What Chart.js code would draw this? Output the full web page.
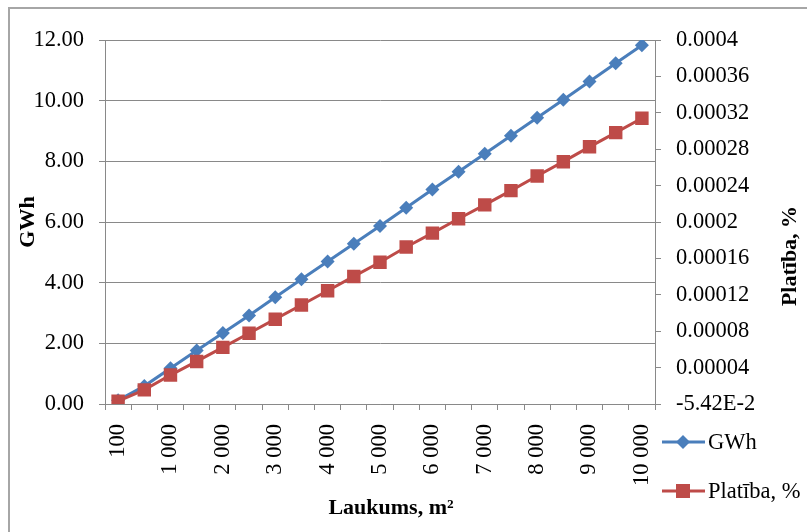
<!DOCTYPE html>
<html>
<head>
<meta charset="utf-8">
<script src="https://cdn.jsdelivr.net/npm/chart.js@4/dist/chart.umd.min.js"></script>
<style>
  html, body { margin: 0; padding: 0; background: #fff; }
  canvas { display: block; }
</style>
</head>
<body>
<canvas id="chart" width="807" height="532"></canvas>
<script>
// area, m2
const areas = [100, 500, 1000, 1500, 2000, 2500, 3000, 3500, 4000, 4500, 5000,
               5500, 6000, 6500, 7000, 7500, 8000, 8500, 9000, 9500, 10000];
// GWh (left axis)
const gwh = [0.12, 0.59, 1.18, 1.76, 2.34, 2.92, 3.52, 4.11, 4.70, 5.28, 5.87,
             6.47, 7.07, 7.66, 8.25, 8.84, 9.44, 10.03, 10.63, 11.23, 11.83];
// Platība, % (right axis)
const platiba = [0.0000031, 0.0000155, 0.0000318, 0.0000468, 0.0000622, 0.0000778, 0.0000932,
                 0.0001088, 0.0001245, 0.0001402, 0.0001557, 0.0001725, 0.0001878, 0.0002036,
                 0.0002188, 0.0002345, 0.0002505, 0.0002663, 0.0002826, 0.0002982, 0.0003140];
const leftTicks = [0, 12, 2];          // min, max, step
const rightTicks = [0, 0.0004, 0.00004];
const zeroLabelRight = '-5.42E-2';

const BLUE = '#4A7EBB';
const RED = '#BE4B48';
const GRID = '#898989';
const FONT = '"Liberation Serif", "Times New Roman", serif';

function fmtArea(n) {
  if (n < 1000) return String(n);
  return Math.floor(n / 1000) + ' ' + String(n % 1000).padStart(3, '0');
}

// frame, right axis title, x title and legend are drawn by hand
const extras = {
  id: 'extras',
  beforeDraw(chart) {
    const ctx = chart.ctx;
    ctx.save();
    ctx.fillStyle = '#fff';
    ctx.fillRect(0, 0, chart.width, chart.height);
    ctx.strokeStyle = '#a6a6a6';
    ctx.lineWidth = 2;
    ctx.strokeRect(9, 8, 900, 600);
    ctx.restore();
  },
  afterDraw(chart) {
    const ctx = chart.ctx;
    ctx.save();
    ctx.fillStyle = '#000';
    ctx.font = 'bold 22px ' + FONT;
    ctx.textAlign = 'center';
    ctx.textBaseline = 'middle';
    ctx.fillText('Laukums, m²', 391, 508);

    ctx.translate(790, 256);
    ctx.rotate(-Math.PI / 2);
    ctx.fillText('Platība, %', 0, 0);
    ctx.restore();

    // legend
    const rows = [
      {ds: chart.data.datasets[0], y: 442, shape: 'diamond'},
      {ds: chart.data.datasets[1], y: 491, shape: 'square'}
    ];
    rows.forEach(r => {
      ctx.save();
      ctx.strokeStyle = r.ds.borderColor;
      ctx.fillStyle = r.ds.borderColor;
      ctx.lineWidth = 3;
      ctx.beginPath();
      ctx.moveTo(662, r.y);
      ctx.lineTo(705, r.y);
      ctx.stroke();
      const cx = 683;
      ctx.beginPath();
      if (r.shape === 'diamond') {
        ctx.moveTo(cx - 7, r.y); ctx.lineTo(cx, r.y - 7);
        ctx.lineTo(cx + 7, r.y); ctx.lineTo(cx, r.y + 7);
        ctx.closePath();
      } else {
        ctx.rect(cx - 7, r.y - 7, 14, 14);
      }
      ctx.fill();
      ctx.fillStyle = '#000';
      ctx.font = '22.5px ' + FONT;
      ctx.textAlign = 'left';
      ctx.textBaseline = 'middle';
      ctx.fillText(r.ds.label, 708, r.y + 1);
      ctx.restore();
    });
  }
};

const tickFont = {family: FONT, size: 22.5};

new Chart(document.getElementById('chart'), {
  type: 'line',
  data: {
    labels: areas.map(fmtArea),
    datasets: [
      {
        label: 'GWh',
        data: gwh,
        yAxisID: 'y',
        borderColor: BLUE,
        backgroundColor: BLUE,
        borderWidth: 3,
        pointStyle: 'rectRot',
        pointRadius: 7,
        pointBorderWidth: 0,
        order: 1
      },
      {
        label: 'Platība, %',
        data: platiba,
        yAxisID: 'y1',
        borderColor: RED,
        backgroundColor: RED,
        borderWidth: 3,
        pointStyle: 'rect',
        pointRadius: 9.5,
        pointBorderWidth: 0,
        order: 0
      }
    ]
  },
  options: {
    responsive: false,
    animation: false,
    layout: {padding: {top: 40, left: 0, right: 0, bottom: 0}},
    plugins: {legend: {display: false}, tooltip: {enabled: false}},
    scales: {
      x: {
        offset: true,
        grid: {offset: true, drawOnChartArea: false, tickLength: 6, color: GRID},
        border: {color: GRID},
        ticks: {
          autoSkip: false, minRotation: 90, maxRotation: 90, padding: 14,
          color: '#000', font: tickFont,
          callback: function (v, i) { return i % 2 === 0 ? this.getLabelForValue(v) : ''; }
        },
        afterFit(s) { s.height = 128; }
      },
      y: {
        position: 'left',
        min: leftTicks[0], max: leftTicks[1],
        ticks: {stepSize: leftTicks[2], padding: 15, color: '#000', font: tickFont,
                callback: v => v.toFixed(2)},
        grid: {color: GRID, tickLength: 6},
        border: {color: GRID},
        title: {display: true, text: 'GWh', color: '#000',
                font: {family: FONT, size: 22, weight: 'bold'}, padding: {top: 15, bottom: 0}},
        afterFit(s) { s.width = 105; }
      },
      y1: {
        position: 'right',
        min: rightTicks[0], max: rightTicks[1],
        ticks: {stepSize: rightTicks[2], padding: 15, color: '#000', font: tickFont,
                callback: v => Math.abs(v) < 1e-12 ? zeroLabelRight : String(parseFloat(v.toFixed(6)))},
        grid: {drawOnChartArea: false, tickLength: 6, color: GRID},
        border: {color: GRID},
        afterFit(s) { s.width = 152; }
      }
    }
  },
  plugins: [extras]
});
</script>
</body>
</html>
